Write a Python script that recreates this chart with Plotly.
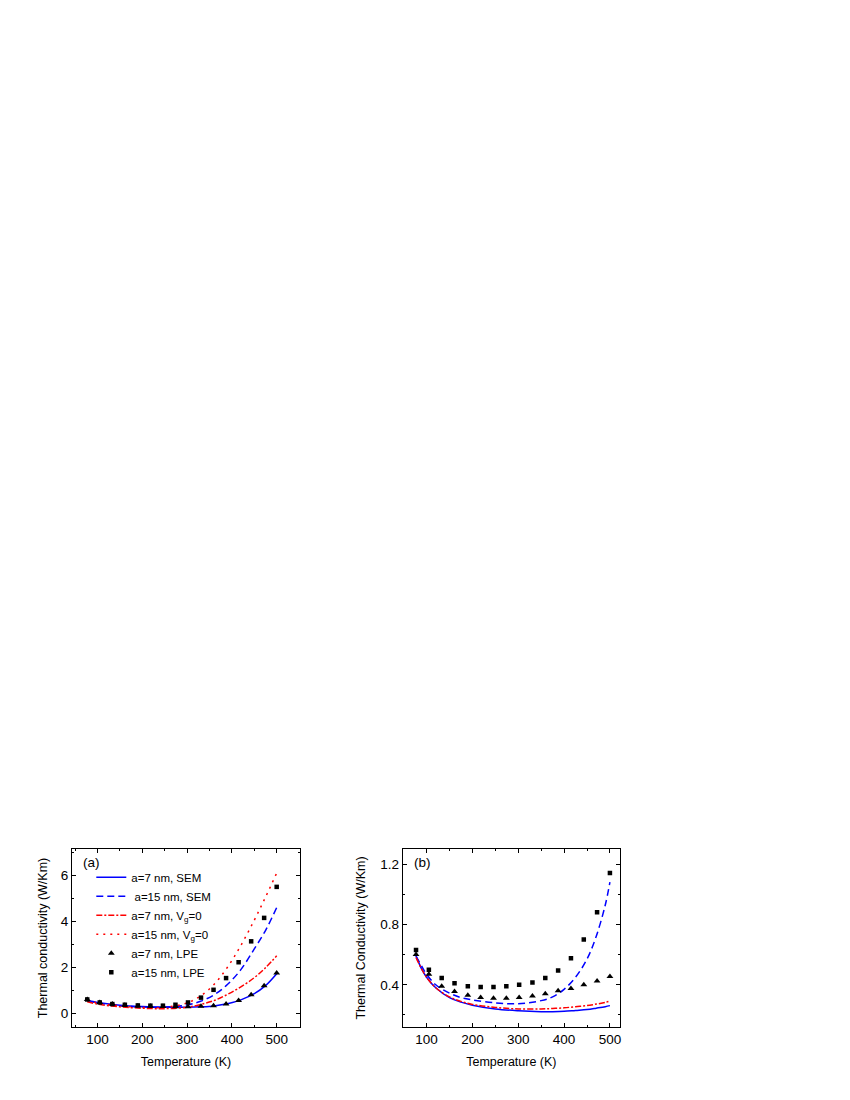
import plotly.graph_objects as go

# ---- panel (a) ----
t_pts = [77, 105, 133, 161, 190, 218, 246, 274, 302, 331, 359, 387, 415, 443, 472, 500]
a_lpe7 = [0.60, 0.47, 0.40, 0.35, 0.32, 0.30, 0.29, 0.28, 0.28, 0.30, 0.33, 0.40, 0.55, 0.80, 1.20, 1.75]
a_lpe15 = [0.60, 0.47, 0.40, 0.37, 0.34, 0.33, 0.33, 0.37, 0.47, 0.68, 1.02, 1.53, 2.22, 3.13, 4.15, 5.50]

t_a = [77, 100, 150, 200, 250, 300, 330, 360, 390, 420, 450, 475, 500]
a_sem7 = [0.55, 0.47, 0.35, 0.29, 0.26, 0.26, 0.28, 0.32, 0.41, 0.58, 0.85, 1.20, 1.72]
a_sem15 = [0.55, 0.45, 0.33, 0.27, 0.27, 0.36, 0.52, 0.80, 1.25, 1.90, 2.80, 3.60, 4.60]
a_vg7 = [0.50, 0.40, 0.28, 0.22, 0.20, 0.26, 0.38, 0.55, 0.82, 1.15, 1.55, 1.98, 2.50]
a_vg15 = [0.55, 0.45, 0.32, 0.25, 0.26, 0.45, 0.75, 1.25, 2.00, 2.95, 4.05, 5.05, 6.10]

# ---- panel (b) ----
b_lpe7 = [0.60, 0.47, 0.39, 0.355, 0.33, 0.315, 0.31, 0.31, 0.315, 0.325, 0.34, 0.36, 0.375, 0.40, 0.425, 0.455]
b_lpe15 = [0.63, 0.50, 0.445, 0.41, 0.39, 0.385, 0.385, 0.39, 0.40, 0.415, 0.445, 0.495, 0.575, 0.70, 0.88, 1.14]

t_b = [77, 90, 100, 120, 150, 175, 200, 250, 300, 350, 375, 400, 425, 450, 470, 490, 500]
b_sem7 = [0.59, 0.50, 0.45, 0.38, 0.315, 0.285, 0.265, 0.24, 0.228, 0.222, 0.222, 0.224, 0.23, 0.236, 0.245, 0.255, 0.262]
b_sem15 = [0.59, 0.52, 0.47, 0.40, 0.345, 0.315, 0.30, 0.28, 0.275, 0.295, 0.32, 0.37, 0.45, 0.57, 0.72, 0.93, 1.08]
b_vg7 = [0.58, 0.50, 0.45, 0.38, 0.32, 0.29, 0.27, 0.25, 0.24, 0.24, 0.243, 0.247, 0.255, 0.262, 0.272, 0.283, 0.292]

names = ["a=7 nm, SEM", " a=15 nm, SEM", "a=7 nm, V<sub>g</sub>=0",
         "a=15 nm, V<sub>g</sub>=0", "a=7 nm, LPE", "a=15 nm, LPE"]

BLUE = "#0000ff"
RED = "#ff0000"
FONT = "Liberation Sans, Arial, sans-serif"
styles = [(BLUE, "solid"), (BLUE, "7px,4px"), (RED, "6px,2px,2px,2px"), (RED, "2px,5px")]

fig = go.Figure()

# model curves
for panel, xs, curves in [(1, t_a, [a_sem7, a_sem15, a_vg7, a_vg15]),
                          (2, t_b, [b_sem7, b_sem15, b_vg7])]:
    for i, y in enumerate(curves):
        col, dash = styles[i]
        fig.add_trace(go.Scatter(
            x=xs, y=y, mode="lines", name=names[i], showlegend=(panel == 1),
            line=dict(color=col, dash=dash, width=1.5, shape="spline"),
            xaxis="x" if panel == 1 else "x2", yaxis="y" if panel == 1 else "y2"))

# LPE points
for panel, y7, y15 in [(1, a_lpe7, a_lpe15), (2, b_lpe7, b_lpe15)]:
    xa = "x" if panel == 1 else "x2"
    ya = "y" if panel == 1 else "y2"
    fig.add_trace(go.Scatter(x=t_pts, y=y7, mode="markers", name=names[4], showlegend=(panel == 1),
                             marker=dict(symbol="triangle-up", size=6, color="black"),
                             xaxis=xa, yaxis=ya))
    fig.add_trace(go.Scatter(x=t_pts, y=y15, mode="markers", name=names[5], showlegend=(panel == 1),
                             marker=dict(symbol="square", size=4.5, color="black"),
                             xaxis=xa, yaxis=ya))

common = dict(showline=True, linecolor="black", linewidth=1, mirror="allticks",
              ticks="inside", ticklen=4, tickcolor="black", showgrid=False, zeroline=False,
              tickfont=dict(size=13.5, color="black"), automargin=False)

ydom = [0.0736, 0.2355]

fig.update_layout(
    width=850, height=1100,
    margin=dict(l=0, r=0, t=0, b=0),
    paper_bgcolor="white", plot_bgcolor="white",
    font=dict(family=FONT, color="black"),
    xaxis=dict(domain=[0.0753, 0.3435], range=[43, 552], anchor="y", dtick=100, tick0=0,
               minor=dict(dtick=50, ticks="inside", ticklen=2, tickcolor="black"),
               title=dict(text="Temperature (K)", font=dict(size=12.5), standoff=11), **common),
    yaxis=dict(domain=ydom, range=[-0.6, 7.15], anchor="x", dtick=2, tick0=0,
               minor=dict(dtick=1, ticks="inside", ticklen=2, tickcolor="black"),
               title=dict(text="Thermal conductivity (W/Km)", font=dict(size=12.5), standoff=10), **common),
    xaxis2=dict(domain=[0.4644, 0.7200], range=[48, 522], anchor="y2", dtick=100, tick0=0,
                minor=dict(dtick=50, ticks="inside", ticklen=2, tickcolor="black"),
                title=dict(text="Temperature (K)", font=dict(size=12.5), standoff=11), **common),
    yaxis2=dict(domain=ydom, range=[0.12, 1.30], anchor="x2", dtick=0.4, tick0=0,
                tickformat=".1f",
                minor=dict(dtick=0.2, ticks="inside", ticklen=2, tickcolor="black"),
                title=dict(text="Thermal Conductivity (W/Km)", font=dict(size=12.5), standoff=11), **common),
    legend=dict(x=0.098, y=0.223, xanchor="left", yanchor="top", bgcolor="rgba(0,0,0,0)",
                font=dict(size=11.5, family=FONT), tracegroupgap=0, itemwidth=30),
    annotations=[
        dict(text="(a)", x=0.0753, y=ydom[1], xref="paper", yref="paper", xanchor="left",
             yanchor="top", xshift=9, yshift=-4, showarrow=False, font=dict(size=13.5)),
        dict(text="(b)", x=0.4644, y=ydom[1], xref="paper", yref="paper", xanchor="left",
             yanchor="top", xshift=9, yshift=-4, showarrow=False, font=dict(size=13.5)),
    ],
)

fig.write_html("out.html")
